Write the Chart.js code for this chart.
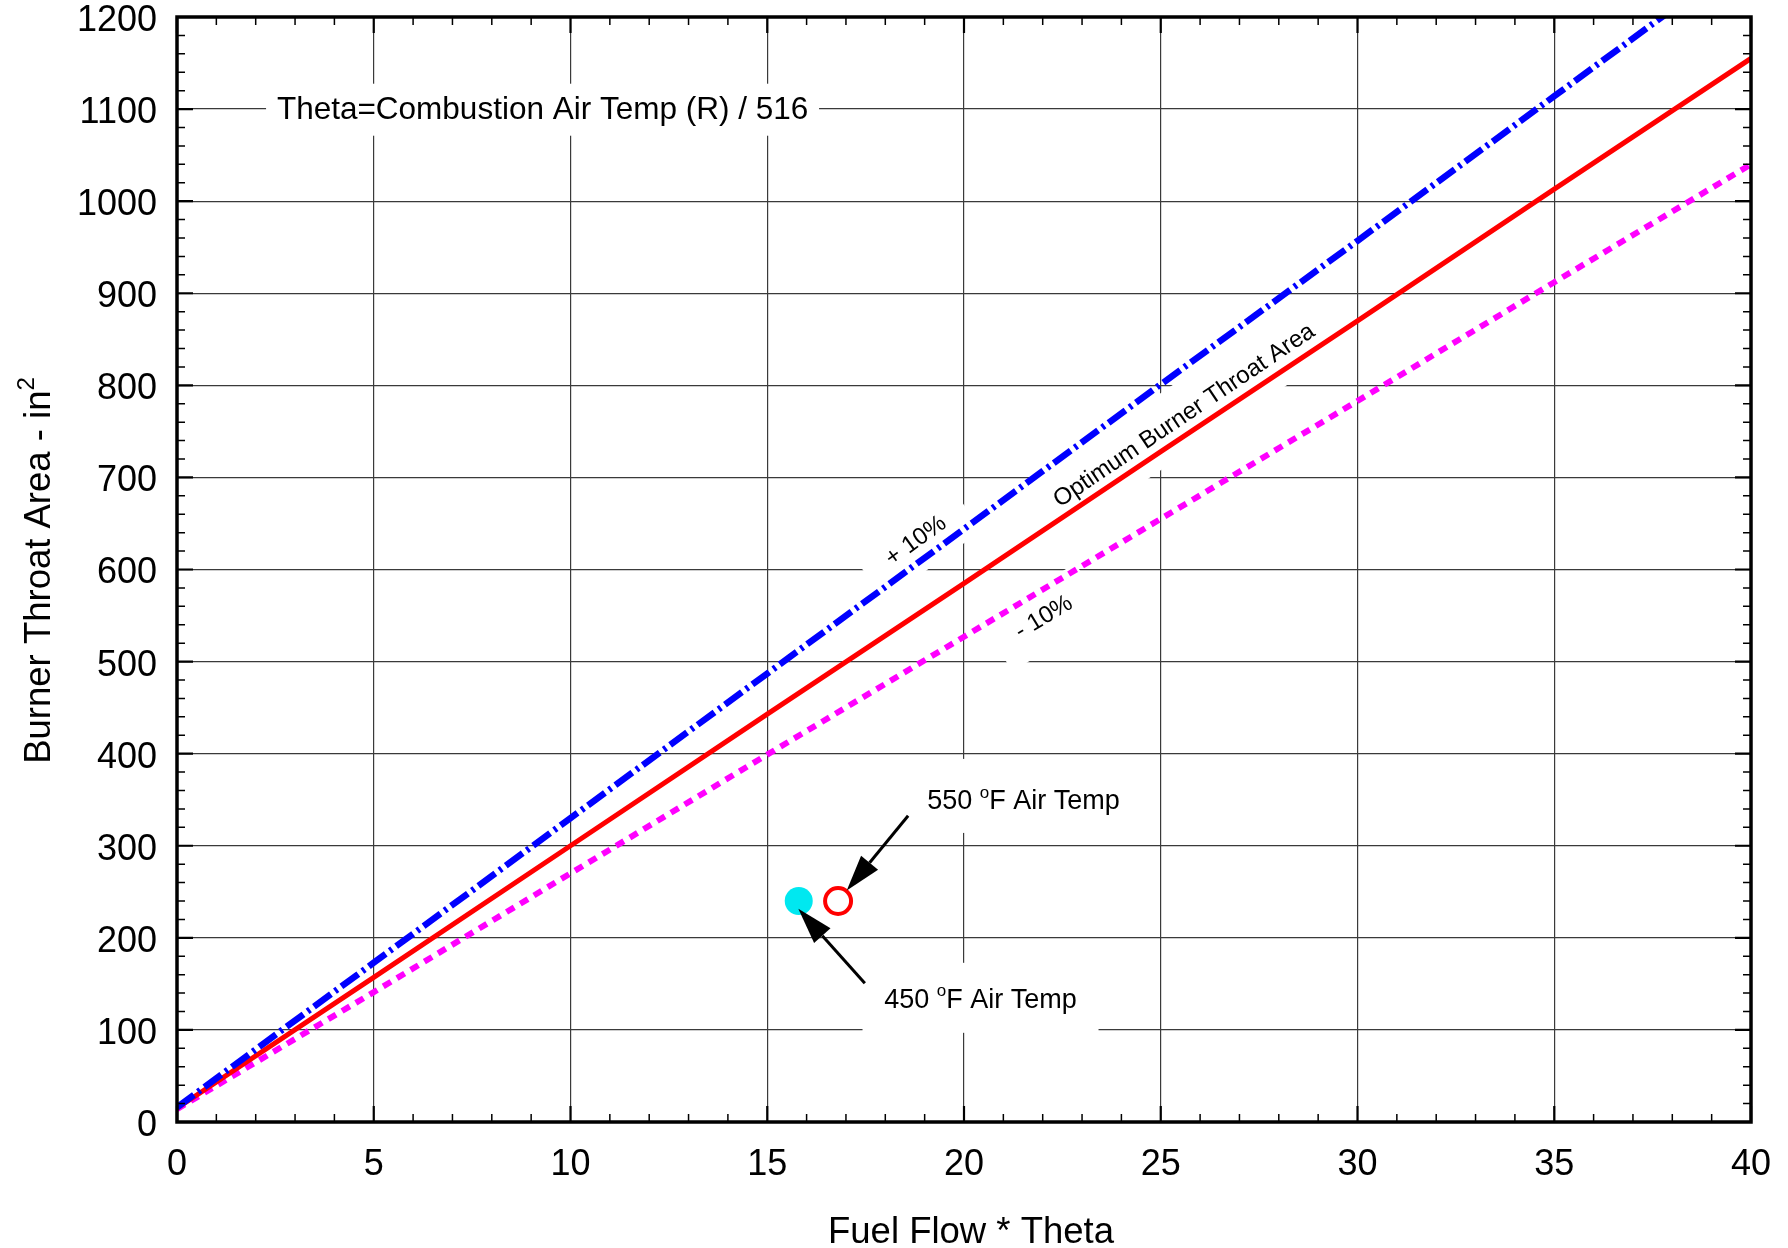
<!DOCTYPE html>
<html>
<head>
<meta charset="utf-8">
<script src="https://cdn.jsdelivr.net/npm/chart.js@4.4.0/dist/chart.umd.min.js"></script>
<style>
  html, body { margin: 0; padding: 0; background: #fff; }
</style>
</head>
<body>
<canvas id="burnerChart" width="1788" height="1248"></canvas>
<script>
// data
const fuelFlow = [0, 5, 10, 15, 20, 25, 30, 35, 40];
const optimumArea = [15, 157, 300, 443, 585, 728, 870, 1013, 1155];
const plusTenArea = [16, 173, 330, 487, 644, 801, 957, 1114, 1271];
const minusTenArea = [14, 141, 270, 399, 527, 655, 783, 912, 1040];

const airTempFlow = [15.8, 16.8];   // 450 F, 550 F
const airTempArea = [240, 240];

const xTickValues = [0, 5, 10, 15, 20, 25, 30, 35, 40];
const yTickValues = [0, 100, 200, 300, 400, 500, 600, 700, 800, 900, 1000, 1100, 1200];

const FONT = '"Liberation Sans", Arial, Helvetica, sans-serif';
const ctx = document.getElementById('burnerChart');

function toPoints(xs, ys) {
    return xs.map((v, i) => ({ x: v, y: ys[i] }));
}

// text notes with white backing boxes
const flatNotes = [
    { parts: [['Theta=Combustion Air Temp (R) / 516']], x: 9.29, y: 1089, size: 31.5, boxW: 553, boxH: 52, boxDy: -9.5 },
    { parts: [['550 '], ['o', true], ['F Air Temp']], x: 21.51, y: 340, size: 27, boxW: 235, boxH: 74, boxDy: -13 },
    { parts: [['450 '], ['o', true], ['F Air Temp']], x: 20.42, y: 124, size: 27, boxW: 236, boxH: 70, boxDy: -10 }
];
const slantNotes = [
    { text: '+ 10%', x: 18.78, y: 631, angle: -36, size: 24, boxW: 120, boxH: 60 },
    { text: 'Optimum Burner Throat Area', x: 25.6, y: 767, angle: -34, size: 24, boxW: 330, boxH: 64 },
    { text: '- 10%', x: 22.03, y: 548, angle: -31, size: 24, boxW: 110, boxH: 60 }
];
const pointerArrows = [
    { from: [18.58, 332.6], to: [17.02, 251.4] },
    { from: [17.48, 150.6], to: [15.79, 231.5] }
];

function drawRich(c, parts, cx, baseY, size) {
    const supSize = Math.round(size * 0.62);
    let widths = parts.map(p => {
        c.font = (p[1] ? supSize : size) + 'px ' + FONT;
        return c.measureText(p[0]).width;
    });
    let total = widths.reduce((a, b) => a + b, 0);
    let xx = cx - total / 2;
    c.textBaseline = 'alphabetic';
    c.textAlign = 'left';
    parts.forEach((p, i) => {
        c.font = (p[1] ? supSize : size) + 'px ' + FONT;
        c.fillText(p[0], xx, p[1] ? baseY - size * 0.42 : baseY);
        xx += widths[i];
    });
}

const decorations = {
    id: 'decorations',
    beforeDatasetsDraw(chart) {
        const c = chart.ctx;
        const xs = chart.scales.x, ys = chart.scales.y;
        c.save();
        c.fillStyle = '#ffffff';
        for (const n of flatNotes) {
            const px = xs.getPixelForValue(n.x), py = ys.getPixelForValue(n.y);
            c.fillRect(px - n.boxW / 2, py + n.boxDy - n.boxH / 2, n.boxW, n.boxH);
        }
        for (const n of slantNotes) {
            c.save();
            c.translate(xs.getPixelForValue(n.x), ys.getPixelForValue(n.y));
            c.rotate(n.angle * Math.PI / 180);
            c.fillRect(-n.boxW / 2, -n.boxH / 2, n.boxW, n.boxH);
            c.restore();
        }
        c.restore();
    },
    afterDatasetsDraw(chart) {
        const c = chart.ctx;
        const xs = chart.scales.x, ys = chart.scales.y;
        const a = chart.chartArea;
        c.save();

        // frame and inward ticks
        c.strokeStyle = '#000';
        c.lineWidth = 3.5;
        c.strokeRect(a.left, a.top, a.right - a.left, a.bottom - a.top);
        for (let v = 0; v <= 40; v++) {
            const p = xs.getPixelForValue(v);
            const major = v % 5 === 0;
            const len = major ? 16 : 8;
            c.lineWidth = major ? 2.2 : 1.5;
            c.beginPath();
            c.moveTo(p, a.bottom); c.lineTo(p, a.bottom - len);
            c.moveTo(p, a.top); c.lineTo(p, a.top + len);
            c.stroke();
        }
        for (let v = 0; v <= 1200; v += 20) {
            const p = ys.getPixelForValue(v);
            const major = v % 100 === 0;
            const len = major ? 16 : 8;
            c.lineWidth = major ? 2.2 : 1.5;
            c.beginPath();
            c.moveTo(a.left, p); c.lineTo(a.left + len, p);
            c.moveTo(a.right, p); c.lineTo(a.right - len, p);
            c.stroke();
        }

        // notes
        c.fillStyle = '#000';
        for (const n of flatNotes) {
            drawRich(c, n.parts, xs.getPixelForValue(n.x), ys.getPixelForValue(n.y), n.size);
        }
        for (const n of slantNotes) {
            c.save();
            c.translate(xs.getPixelForValue(n.x), ys.getPixelForValue(n.y));
            c.rotate(n.angle * Math.PI / 180);
            c.font = n.size + 'px ' + FONT;
            c.textAlign = 'center';
            c.textBaseline = 'middle';
            c.fillText(n.text, 0, 0);
            c.restore();
        }

        // arrows
        for (const ar of pointerArrows) {
            const x0 = xs.getPixelForValue(ar.from[0]), y0 = ys.getPixelForValue(ar.from[1]);
            const x1 = xs.getPixelForValue(ar.to[0]), y1 = ys.getPixelForValue(ar.to[1]);
            const ang = Math.atan2(y1 - y0, x1 - x0);
            const headLen = 36, headHalf = 11;
            const bx = x1 - headLen * Math.cos(ang), by = y1 - headLen * Math.sin(ang);
            c.lineWidth = 3;
            c.beginPath();
            c.moveTo(x0, y0); c.lineTo(bx, by);
            c.stroke();
            c.beginPath();
            c.moveTo(x1, y1);
            c.lineTo(bx + headHalf * Math.sin(ang), by - headHalf * Math.cos(ang));
            c.lineTo(bx - headHalf * Math.sin(ang), by + headHalf * Math.cos(ang));
            c.closePath();
            c.fill();
        }

        // axis titles
        c.font = '36.5px ' + FONT;
        c.textAlign = 'center';
        c.textBaseline = 'alphabetic';
        c.fillText('Fuel Flow * Theta', (a.left + a.right) / 2 + 7, 1243);

        c.save();
        c.translate(50, (a.top + a.bottom) / 2 + 1);
        c.rotate(-Math.PI / 2);
        const mainTxt = 'Burner Throat Area - in';
        c.font = '36.5px ' + FONT;
        const w1 = c.measureText(mainTxt).width;
        c.font = '24px ' + FONT;
        const w2 = c.measureText('2').width;
        c.textAlign = 'left';
        c.font = '36.5px ' + FONT;
        c.fillText(mainTxt, -(w1 + w2) / 2, 0);
        c.font = '24px ' + FONT;
        c.fillText('2', -(w1 + w2) / 2 + w1, -16);
        c.restore();

        c.restore();
    }
};

new Chart(ctx, {
    type: 'scatter',
    data: {
        datasets: [
            {
                label: '+10%',
                data: toPoints(fuelFlow, plusTenArea),
                showLine: true,
                borderColor: '#0000ff',
                borderWidth: 6.5,
                borderDash: [21, 5, 3, 5],
                pointRadius: 0,
                tension: 0
            },
            {
                label: 'Optimum Burner Throat Area',
                data: toPoints(fuelFlow, optimumArea),
                showLine: true,
                borderColor: '#ff0000',
                borderWidth: 5,
                pointRadius: 0,
                tension: 0
            },
            {
                label: '-10%',
                data: toPoints(fuelFlow, minusTenArea),
                showLine: true,
                borderColor: '#ff00ff',
                borderWidth: 6,
                borderDash: [9, 7],
                pointRadius: 0,
                tension: 0
            },
            {
                label: '450 F Air Temp',
                data: [{ x: airTempFlow[0], y: airTempArea[0] }],
                pointRadius: 14,
                backgroundColor: '#00e8f0',
                borderWidth: 0
            },
            {
                label: '550 F Air Temp',
                data: [{ x: airTempFlow[1], y: airTempArea[1] }],
                pointRadius: 13,
                backgroundColor: '#ffffff',
                borderColor: '#ff0000',
                borderWidth: 4
            }
        ]
    },
    options: {
        responsive: false,
        animation: false,
        devicePixelRatio: 1,
        layout: { padding: { top: 14, right: 37, left: 0, bottom: 0 } },
        plugins: {
            legend: { display: false },
            tooltip: { enabled: false }
        },
        scales: {
            x: {
                type: 'linear',
                min: 0,
                max: 40,
                afterBuildTicks: s => { s.ticks = xTickValues.map(v => ({ value: v })); },
                afterFit: s => { s.height = 126; s.paddingLeft = 0; s.paddingRight = 0; },
                grid: { color: '#3a3a3a', lineWidth: 1.2, drawTicks: false },
                border: { display: false },
                ticks: {
                    color: '#000',
                    font: { family: FONT, size: 36 },
                    padding: 21,
                    maxRotation: 0,
                    autoSkip: false,
                    callback: v => String(v)
                }
            },
            y: {
                type: 'linear',
                min: 0,
                max: 1200,
                afterBuildTicks: s => { s.ticks = yTickValues.map(v => ({ value: v })); },
                afterFit: s => { s.width = 177; s.paddingTop = 0; s.paddingBottom = 0; },
                grid: { color: '#3a3a3a', lineWidth: 1.2, drawTicks: false },
                border: { display: false },
                ticks: {
                    color: '#000',
                    font: { family: FONT, size: 36 },
                    padding: 20,
                    labelOffset: 4,
                    autoSkip: false,
                    callback: v => String(v)
                }
            }
        }
    },
    plugins: [decorations]
});
</script>
</body>
</html>
